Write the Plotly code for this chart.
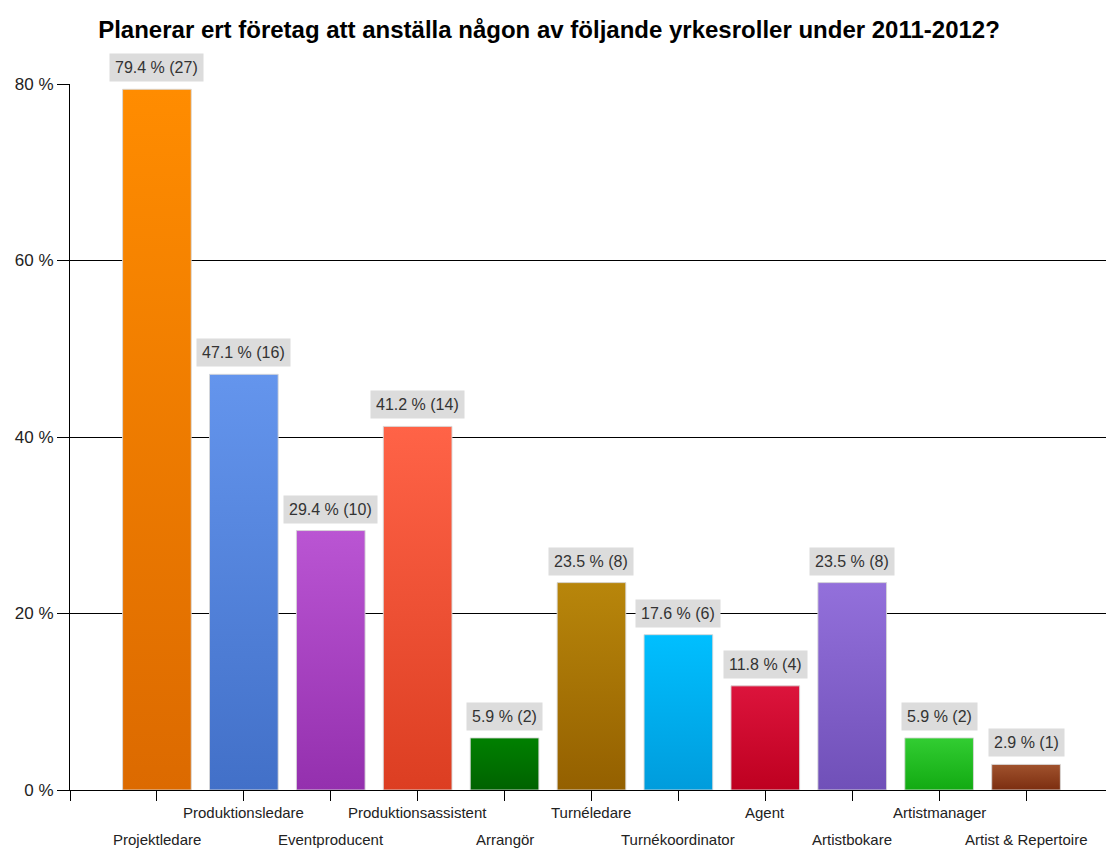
import plotly.graph_objects as go

# Survey answers: share of companies planning to hire each role
categories = [
    "Projektledare", "Produktionsledare", "Eventproducent", "Produktionsassistent",
    "Arrangör", "Turnéledare", "Turnékoordinator", "Agent",
    "Artistbokare", "Artistmanager", "Artist & Repertoire",
]
percent = [79.4, 47.1, 29.4, 41.2, 5.9, 23.5, 17.6, 11.8, 23.5, 5.9, 2.9]
counts = [27, 16, 10, 14, 2, 8, 6, 4, 8, 2, 1]

y_ticks = [0, 20, 40, 60, 80]
y_tick_labels = [f"{t} %" for t in y_ticks]

# Gradient colours per bar (top -> bottom)
top_colors = ["#FF8C00", "#6495ED", "#BA55D3", "#FF6347", "#008000", "#B8860B",
              "#00BFFF", "#DC143C", "#9370DB", "#32CD32", "#A0522D"]
bottom_colors = ["#DC6A00", "#4270C8", "#9430AE", "#DC3E22", "#006200", "#946000",
                 "#009CDC", "#BE0020", "#7050B8", "#12AA12", "#7C2E10"]

BAR_W = 0.79
FONT = "Liberation Sans, Arial, sans-serif"

fig = go.Figure()

for i, (v, top, bot) in enumerate(zip(percent, top_colors, bottom_colors)):
    x0, x1 = i - BAR_W / 2, i + BAR_W / 2
    fig.add_trace(go.Scatter(
        x=[x0, x1, x1, x0, x0],
        y=[0, 0, v, v, 0],
        mode="lines",
        fill="toself",
        fillgradient=dict(type="vertical", colorscale=[[0, bot], [1, top]]),
        line=dict(color="rgba(215,215,215,0.9)", width=1),
        name=categories[i],
        hoverinfo="name",
        showlegend=False,
    ))

annotations = []
# value labels above bars
for i, (v, n) in enumerate(zip(percent, counts)):
    annotations.append(dict(
        x=i, y=v, xref="x", yref="y",
        text=f"{v} % ({n})",
        showarrow=False, yanchor="bottom", yshift=7,
        bgcolor="#DCDCDC", borderpad=5,
        font=dict(family=FONT, size=16, color="#333333"),
    ))

# staggered category labels below the axis
for i, name in enumerate(categories):
    annotations.append(dict(
        x=i, y=0, xref="x", yref="paper",
        text=name, showarrow=False, yanchor="middle",
        yshift=-49 if i % 2 == 0 else -22,
        font=dict(family=FONT, size=15, color="#222222"),
    ))

fig.update_layout(
    width=1106, height=848,
    margin=dict(l=70, r=0, t=84, b=58),
    paper_bgcolor="white", plot_bgcolor="white",
    title=dict(
        text="<b>Planerar ert företag att anställa någon av följande yrkesroller under 2011-2012?</b>",
        x=549 / 1106, xanchor="center", xref="container",
        y=1 - 30 / 848, yref="container", yanchor="middle",
        font=dict(family=FONT, size=24, color="black"),
    ),
    annotations=annotations,
    xaxis=dict(
        range=[-1, 10.92], showgrid=False, zeroline=False,
        tickvals=list(range(-1, len(categories))), ticktext=[""] * (len(categories) + 1),
        ticks="outside", ticklen=10, tickcolor="black", tickwidth=1,
        showline=True, linecolor="black", linewidth=1,
        fixedrange=True,
    ),
    yaxis=dict(
        range=[0, 80], tickvals=y_ticks, ticktext=y_tick_labels,
        showgrid=True, gridcolor="black", gridwidth=1, zeroline=False,
        ticks="outside", ticklen=12, tickcolor="black", tickwidth=1,
        showline=True, linecolor="black", linewidth=1,
        tickfont=dict(family=FONT, size=17, color="#222222"),
        fixedrange=True,
    ),
)

fig.write_html("out.html")
